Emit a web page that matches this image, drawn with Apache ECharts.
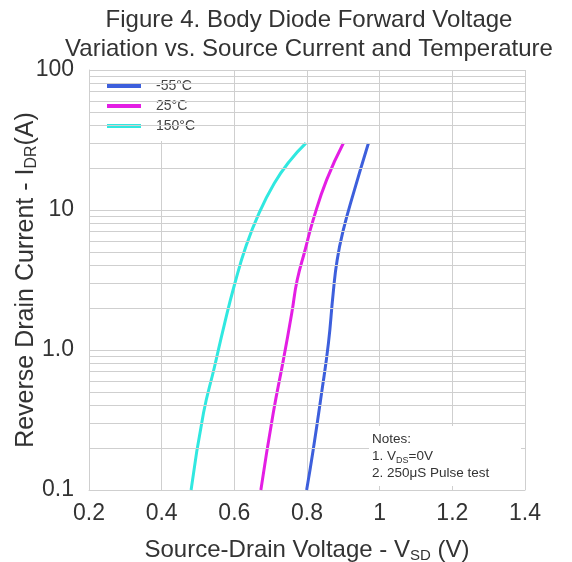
<!DOCTYPE html>
<html>
<head>
<meta charset="utf-8">
<script src="https://cdn.jsdelivr.net/npm/echarts@6/dist/echarts.min.js"></script>
<style>
  html, body { margin: 0; padding: 0; background: #fff; }
  #chart { width: 572px; height: 562px; }
</style>
</head>
<body>
<div id="chart"></div>
<script>
// values (V, A)
const vsdM55 = [0.799, 0.817, 0.840, 0.859, 0.872, 0.883, 0.900, 0.928, 0.969]
const idrM55 = [0.1, 0.193, 0.49, 1.12, 2.54, 4.4, 7.2, 13.2, 30]
const vsd25 = [0.673, 0.707, 0.735, 0.758, 0.773, 0.795, 0.817, 0.854, 0.900]
const idr25 = [0.1, 0.353, 0.85, 1.83, 3.16, 5.2, 8.5, 16.4, 30]
const vsd150 = [0.481, 0.515, 0.545, 0.572, 0.600, 0.632, 0.668, 0.710, 0.750, 0.797]
const idr150 = [0.1, 0.353, 0.75, 1.5, 2.9, 5.5, 9.5, 15.5, 22, 30]

const seriesNames = ['-55°C', '25°C', '150°C']
const seriesColors = ['#3d5fdc', '#e41ee4', '#30e8e0']
const xTicks = [0.2, 0.4, 0.6, 0.8, 1, 1.2, 1.4]
const yTicks = [0.1, 1, 10, 100]
const yMinorLines = [0.2, 0.3, 0.4, 0.5, 0.6, 0.7, 0.8, 0.9, 2, 3, 4, 5, 6, 7, 8, 9, 20, 30, 40, 50, 60, 70, 80, 90]

const GRID = '#cfcfcf'
const TXT = '#333'
const FONT = 'Liberation Sans'

const chart = echarts.init(document.getElementById('chart'))

function pairs(xs, ys) { return xs.map((x, i) => [x, ys[i]]) }

const curves = [[vsdM55, idrM55], [vsd25, idr25], [vsd150, idr150]].map((c, i) => ({
  name: seriesNames[i], type: 'line', smooth: 0.5, showSymbol: false, z: 3,
  lineStyle: { width: 3, color: seriesColors[i] }, itemStyle: { color: seriesColors[i] },
  data: pairs(c[0], c[1]),
}))

function nameRich(size) {
  return {
    a: { fontFamily: FONT, fontSize: size, color: TXT, lineHeight: size + 2 },
    s: { fontFamily: FONT, fontSize: Math.round(size * 0.62), color: TXT, verticalAlign: 'bottom', lineHeight: size + 2 },
  }
}

chart.setOption({
  animation: false,
  title: {
    text: 'Figure 4. Body Diode Forward Voltage\nVariation vs. Source Current and Temperature',
    left: 304, top: 1, textAlign: 'center',
    textStyle: { fontFamily: FONT, fontSize: 24, fontWeight: 'normal', color: TXT, lineHeight: 29 },
  },
  legend: {
    data: seriesNames, orient: 'vertical', left: 92, top: 71, icon: 'rect',
    itemWidth: 34, itemHeight: 4, itemGap: 6, backgroundColor: '#fff', padding: [8, 9, 8, 15],
    textStyle: { fontFamily: FONT, fontSize: 14, color: '#444', padding: [0, 0, 0, 10] },
  },
  grid: { left: 89, right: 47, top: 70, bottom: 72, containLabel: false, outerBoundsMode: 'none' },
  xAxis: {
    type: 'value', min: xTicks[0], max: xTicks[xTicks.length - 1], interval: 0.2,
    name: '{a|Source-Drain Voltage - V}{s|SD}{a| (V)}', nameLocation: 'middle', nameGap: 47,
    nameMoveOverlap: false, nameTextStyle: { rich: nameRich(24) },
    axisLine: { lineStyle: { color: GRID } }, axisTick: { show: false },
    axisLabel: { fontFamily: FONT, fontSize: 23, color: TXT, margin: 12, formatter: v => String(+v.toFixed(1)) },
    splitLine: { show: true, lineStyle: { color: GRID } },
  },
  yAxis: {
    type: 'log', logBase: 10, min: yTicks[0], max: yTicks[yTicks.length - 1],
    name: '{a|Reverse Drain Current - I}{s|DR}{a|(A)}', nameLocation: 'middle', nameGap: 49,
    nameMoveOverlap: false, nameTextStyle: { rich: nameRich(25) },
    axisLine: { show: true, lineStyle: { color: GRID } }, axisTick: { show: false },
    axisLabel: { fontFamily: FONT, fontSize: 23, color: TXT, margin: 15,
      formatter: v => (Math.abs(v - 1) < 1e-9 ? '1.0' : String(+(+v).toPrecision(3))) },
    splitLine: { show: true, lineStyle: { color: GRID } },
  },
  graphic: [
    { type: 'rect', z: 10, shape: { x: 369, y: 426, width: 152, height: 60 }, style: { fill: '#fff' } },
    { type: 'text', z: 11, x: 372, y: 431, style: {
      text: '{a|Notes:}\n{a|1. V}{s|DS}{a|=0V}\n{a|2. 250μS Pulse test}',
      rich: {
        a: { fontFamily: FONT, fontSize: 13.5, fill: TXT, lineHeight: 17 },
        s: { fontFamily: FONT, fontSize: 9, fill: TXT, verticalAlign: 'bottom', lineHeight: 17 },
      },
    } },
  ],
  series: [
    {
      name: 'minor', type: 'line', data: [], z: 1, silent: true,
      markLine: {
        silent: true, symbol: 'none', label: { show: false }, animation: false,
        lineStyle: { color: GRID, type: 'solid', width: 1 },
        data: yMinorLines.map(v => ({ yAxis: v })),
      },
    },
    ...curves,
  ],
})
</script>
</body>
</html>
